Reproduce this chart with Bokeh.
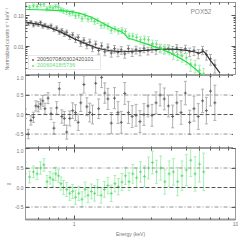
from bokeh.plotting import figure
from bokeh.layouts import column
from bokeh.models import (LogAxis, LinearAxis, FixedTicker, PrintfTickFormatter, Span,
                          Label, Legend, LegendItem, BoxAnnotation, Range1d,
                          CustomLabelingPolicy)
from bokeh.embed import file_html
from bokeh.resources import INLINE

# ---------------- data ----------------
black_label = "20050708/0302420101"
green_label = "20060418/5736"
source_name = "POX52"

black_E = [0.50, 0.52, 0.54, 0.56, 0.58, 0.60, 0.62, 0.64, 0.66, 0.69,
           0.72, 0.75, 0.78, 0.81, 0.84, 0.87, 0.90, 0.94, 0.98, 1.02,
           1.06, 1.10, 1.15, 1.20, 1.25, 1.30, 1.36, 1.42, 1.48, 1.55,
           1.62, 1.70, 1.78, 1.87, 1.96, 2.06, 2.17, 2.29, 2.42, 2.56,
           2.71, 2.87, 3.04, 3.22, 3.41, 3.62, 3.84, 4.08, 4.33, 4.60,
           4.89, 5.20, 5.53, 5.88, 6.25, 6.60, 7.00, 7.45]
black_v = [0.060, 0.055, 0.062, 0.050, 0.057, 0.052, 0.060, 0.046, 0.050, 0.043,
           0.047, 0.036, 0.040, 0.030, 0.033, 0.026, 0.029, 0.021, 0.024, 0.017,
           0.020, 0.013, 0.016, 0.011, 0.014, 0.009, 0.012, 0.0075, 0.0105, 0.0068,
           0.0095, 0.0062, 0.0085, 0.0065, 0.0078, 0.0058, 0.0085, 0.0066, 0.0080, 0.0070,
           0.0088, 0.0074, 0.0090, 0.0078, 0.0092, 0.0080, 0.0088, 0.0078, 0.0090, 0.0072,
           0.0085, 0.0068, 0.0075, 0.0060, 0.0078, 0.0055, 0.0040, 0.0025]
black_err = [0.12, 0.12, 0.12, 0.13, 0.13, 0.13, 0.13, 0.14, 0.14, 0.14,
             0.15, 0.15, 0.16, 0.16, 0.17, 0.18, 0.18, 0.19, 0.20, 0.20,
             0.21, 0.22, 0.22, 0.23, 0.24, 0.24, 0.25, 0.25, 0.26, 0.26,
             0.27, 0.27, 0.27, 0.28, 0.28, 0.28, 0.28, 0.28, 0.28, 0.28,
             0.28, 0.28, 0.28, 0.28, 0.28, 0.28, 0.28, 0.29, 0.29, 0.30,
             0.30, 0.31, 0.32, 0.33, 0.30, 0.34, 0.38, 0.45]
black_res = [0.02, -0.50, -0.15, -0.07, 0.22, 0.20, 0.27, 0.35, 0.15, 0.42,
             0.02, -0.35, 0.17, 0.66, -0.05, -0.10, -0.45, -0.10, 0.10, 0.05,
             -0.20, 0.30, 0.77, 0.20, 0.05, 0.00, 0.80, 0.15, 0.95, 0.55,
             0.40, -0.22, 0.42, 0.05, -0.20, 0.54, 0.05, -0.05, -0.02, -0.18,
             0.00, 0.22, -0.02, 0.30, 0.50, 0.40, 0.22, -0.05, 0.30, 0.05,
             0.55, -0.20, 0.15, -0.05, 0.35, 0.10, 0.60, 0.30]

black_model_E = [0.5, 0.6, 0.7, 0.8, 0.9, 1.0, 1.2, 1.4, 1.7, 2.0, 2.5, 3.0,
                 3.5, 4.0, 4.5, 5.0, 5.5, 6.0, 6.3, 6.5, 7.0, 7.5, 8.0]
black_model_v = [0.062, 0.053, 0.042, 0.032, 0.024, 0.018, 0.012, 0.0088, 0.0072,
                 0.0068, 0.0072, 0.0078, 0.0082, 0.0083, 0.0080, 0.0075, 0.0068,
                 0.0062, 0.0070, 0.0062, 0.0035, 0.0022, 0.0014]

green_E = [0.50, 0.53, 0.56, 0.59, 0.62, 0.65, 0.68, 0.71, 0.74, 0.77,
           0.80, 0.83, 0.86, 0.90, 0.94, 0.98, 1.02, 1.07, 1.12, 1.17,
           1.22, 1.28, 1.34, 1.40, 1.47, 1.54, 1.62, 1.70, 1.79, 1.88,
           1.98, 2.08, 2.19, 2.31, 2.44, 2.58, 2.73, 2.89, 3.06, 3.24,
           3.44, 3.65, 3.88, 4.12, 4.38, 4.66, 4.96, 5.28, 5.62, 5.98, 6.35]
green_v = [0.22, 0.19, 0.21, 0.20, 0.23, 0.24, 0.17, 0.19, 0.18, 0.20,
           0.19, 0.16, 0.145, 0.135, 0.12, 0.125, 0.10, 0.105, 0.08, 0.10,
           0.078, 0.08, 0.066, 0.07, 0.049, 0.050, 0.047, 0.034, 0.038, 0.032,
           0.034, 0.031, 0.022, 0.022, 0.020, 0.0165, 0.0175, 0.0165, 0.0125, 0.0120,
           0.0090, 0.0088, 0.0080, 0.0058, 0.0055, 0.0050, 0.0043, 0.0027, 0.0025, 0.0017,
           0.0013]
green_err = [0.15, 0.15, 0.15, 0.15, 0.16, 0.16, 0.16, 0.16, 0.17, 0.17,
             0.17, 0.17, 0.18, 0.18, 0.18, 0.18, 0.18, 0.18, 0.19, 0.19,
             0.19, 0.19, 0.20, 0.20, 0.20, 0.20, 0.21, 0.21, 0.21, 0.21,
             0.22, 0.22, 0.23, 0.24, 0.25, 0.26, 0.27, 0.28, 0.29, 0.30,
             0.31, 0.32, 0.33, 0.34, 0.36, 0.38, 0.40, 0.42, 0.44, 0.46, 0.48]
green_res = [0.50, 0.27, 0.40, 0.35, 0.50, 0.58, 0.15, 0.25, 0.20, 0.35,
             0.30, 0.10, 0.00, -0.05, -0.15, -0.10, -0.25, -0.15, -0.30, -0.05,
             -0.20, -0.10, -0.15, 0.00, -0.20, -0.05, 0.05, -0.15, 0.10, 0.02,
             0.14, 0.30, 0.15, 0.35, 0.25, 0.40, 0.28, 0.50, 0.64, 0.40,
             0.50, 0.15, 0.35, 0.40, 0.15, 0.30, 0.45, 0.70, 0.35, 0.60, 0.40]

green_model_E = [0.5, 0.6, 0.7, 0.8, 0.9, 1.0, 1.1, 1.2, 1.3, 1.45, 1.6, 1.8, 1.95,
                 2.05, 2.15, 2.4, 2.8, 3.2, 3.6, 4.0, 4.5, 5.0, 5.5, 6.0, 6.3]
green_model_v = [0.16, 0.157, 0.153, 0.148, 0.142, 0.133, 0.118, 0.102, 0.086, 0.064,
                 0.048, 0.036, 0.031, 0.026, 0.019, 0.016, 0.0122, 0.0096, 0.0076,
                 0.006, 0.0043, 0.0031, 0.0021, 0.0014, 0.0011]

x_major = [1, 10]
x_minor = [0.5, 0.6, 0.7, 0.8, 0.9, 2, 3, 4, 5, 6, 7, 8, 9]
y1_major = [0.01, 0.1]
y1_minor = [0.002, 0.003, 0.004, 0.005, 0.006, 0.007, 0.008, 0.009,
            0.02, 0.03, 0.04, 0.05, 0.06, 0.07, 0.08, 0.09, 0.2]
res_major = [-0.5, 0.0, 0.5, 1.0]
zero_line = [0.0]
half_lines = [-0.5, 0.5]

# ---------------- style ----------------
FONT = "Liberation Sans"
AX_COL = "#9a9a9a"
TICK_COL = "#555555"
LBL_COL = "#777777"
BLK_PT = "#666666"
BLK_BAR = "#b0b0b0"
BLK_LINE = "#333333"
GRN_PT = "#66e07a"
GRN_BAR = "#a8f0b4"
GRN_LINE = "#22e040"
FW = 210

xr = Range1d(0.5, 10.0)

NO_LABELS = "for (const i of Array.from(indices)) indices.unset(i)"


def style(ax, labels=False):
    ax.axis_line_color = AX_COL
    ax.axis_line_width = 1
    ax.major_tick_line_color = TICK_COL
    ax.minor_tick_line_color = TICK_COL
    ax.major_tick_in = 4
    ax.major_tick_out = 0
    ax.minor_tick_in = 2
    ax.minor_tick_out = 0
    ax.major_label_text_font = FONT
    ax.major_label_text_color = LBL_COL
    ax.axis_label_text_font = FONT
    ax.axis_label_text_color = LBL_COL
    ax.axis_label_text_font_style = "normal"
    ax.axis_label_text_font_size = "5px"
    ax.axis_label_standoff = 1
    if labels:
        ax.major_label_text_font_size = "5px"
        ax.major_label_standoff = 2
    else:
        ax.major_label_text_font_size = "0px"
        ax.major_label_standoff = 0
        ax.major_label_policy = CustomLabelingPolicy(code=NO_LABELS)
    return ax


def make_fig(yr, ytype, fh, top, bottom_labels=False, ylabel=None):
    p = figure(frame_width=FW, frame_height=fh, x_axis_type="log", y_axis_type=ytype,
               x_range=xr, y_range=yr, output_backend="svg", toolbar_location=None,
               x_axis_location=None, y_axis_location=None,
               min_border_left=19, min_border_right=4, min_border_top=top,
               min_border_bottom=0)
    p.outline_line_color = AX_COL
    p.background_fill_color = "white"
    p.border_fill_color = "white"
    p.grid.visible = False
    for loc in ("below", "above"):
        show = bottom_labels and loc == "below"
        ax = LogAxis(ticker=FixedTicker(ticks=x_major, minor_ticks=x_minor),
                     formatter=PrintfTickFormatter(format="%g"))
        style(ax, show)
        if show:
            ax.axis_label = "Energy (keV)"
            ax.axis_line_width = 2
            ax.axis_label_standoff = 2
        p.add_layout(ax, loc)
    for loc in ("left", "right"):
        show = loc == "left"
        if ytype == "log":
            ax = LogAxis(ticker=FixedTicker(ticks=y1_major, minor_ticks=y1_minor),
                         formatter=PrintfTickFormatter(format="%.2f"))
        else:
            ax = LinearAxis(ticker=FixedTicker(ticks=res_major, minor_ticks=[]),
                            formatter=PrintfTickFormatter(format="%.1f"))
        style(ax, show)
        if show and ylabel:
            ax.axis_label = ylabel
        p.add_layout(ax, loc)
    return p


def err_plot(p, E, v, lo, hi, pt_col, bar_col):
    p.segment(x0=E, y0=lo, x1=E, y1=hi, line_color=bar_col, line_width=1)
    p.scatter(E, lo, marker="dash", size=3, line_color=bar_col, line_width=1)
    p.scatter(E, hi, marker="dash", size=3, line_color=bar_col, line_width=1)
    return p.scatter(E, v, marker="cross", size=3, line_color=pt_col, line_width=1)


# ---------------- panel 1: spectrum ----------------
p1 = make_fig(Range1d(0.00115, 0.27), "log", 73, 2,
              ylabel="Normalized counts s\u207b\u00b9 keV\u207b\u00b9")
b_lo = [v * (1 - e) for v, e in zip(black_v, black_err)]
b_hi = [v * (1 + e) for v, e in zip(black_v, black_err)]
g_lo = [v * (1 - e) for v, e in zip(green_v, green_err)]
g_hi = [v * (1 + e) for v, e in zip(green_v, green_err)]
rb = err_plot(p1, black_E, black_v, b_lo, b_hi, BLK_PT, BLK_BAR)
rg = err_plot(p1, green_E, green_v, g_lo, g_hi, GRN_PT, GRN_BAR)
p1.line(black_model_E, black_model_v, line_color=BLK_LINE, line_width=1.2)
p1.line(green_model_E, green_model_v, line_color=GRN_LINE, line_width=1.2)

p1.add_layout(BoxAnnotation(left=3, right=75, bottom=6, top=20,
                            left_units="screen", right_units="screen",
                            bottom_units="screen", top_units="screen",
                            fill_color="white", fill_alpha=1.0,
                            line_color="#a0a0a0", line_width=0.8))
for item_r, lab, col, loc in ((rb, black_label, "#555555", (5, 13)),
                              (rg, green_label, GRN_PT, (5, 7))):
    lg = Legend(items=[LegendItem(label=lab, renderers=[item_r])], location=loc,
                label_text_font=FONT, label_text_font_size="5.5px",
                label_text_color=col, glyph_width=5, glyph_height=5,
                label_height=5, label_standoff=2, padding=0, margin=0, spacing=0,
                border_line_alpha=0, background_fill_alpha=0)
    p1.add_layout(lg)

p1.add_layout(Label(x=165, y=61, x_units="screen", y_units="screen", text=source_name,
                    text_font=FONT, text_font_size="6.5px", text_color="#8a8a8a"))

# ---------------- panel 2: black residuals ----------------
p2 = make_fig(Range1d(-0.87, 1.0), "linear", 73, 0)
br_lo = [r - e for r, e in zip(black_res, black_err)]
br_hi = [r + e for r, e in zip(black_res, black_err)]
err_plot(p2, black_E, black_res, br_lo, br_hi, BLK_PT, BLK_BAR)

# ---------------- panel 3: green residuals ----------------
p3 = make_fig(Range1d(-0.82, 1.0), "linear", 71, 0, bottom_labels=True, ylabel="\u03c7")
gr_lo = [r - e for r, e in zip(green_res, green_err)]
gr_hi = [r + e for r, e in zip(green_res, green_err)]
err_plot(p3, green_E, green_res, gr_lo, gr_hi, GRN_PT, GRN_BAR)

for p in (p2, p3):
    for y in zero_line:
        p.add_layout(Span(location=y, dimension="width", line_color="#555555",
                          line_width=1, line_dash="4 2"))
    for y in half_lines:
        p.add_layout(Span(location=y, dimension="width", line_color="#777777",
                          line_width=0.8, line_dash="4 2 1 2"))

layout = column(p1, p2, p3, spacing=0)
open("out.html", "w").write(file_html(layout, INLINE))
